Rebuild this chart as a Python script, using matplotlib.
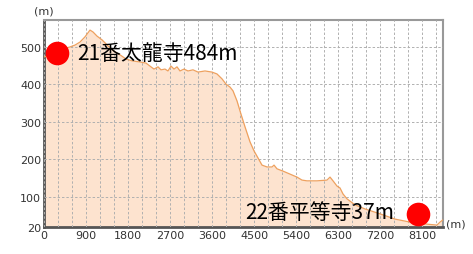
import matplotlib
matplotlib.use("Agg")
import matplotlib.pyplot as plt
from matplotlib.ticker import MultipleLocator

# ================= Data =================
# distance (m) / elevation (m)
distance = [0, 129, 279, 407, 557, 664, 771, 879, 986, 1050, 1136, 1243, 1371,
            1500, 1629, 1757, 1886, 2057, 2186, 2271, 2357, 2443, 2507, 2593,
            2657, 2722, 2786, 2850, 2914, 3000, 3086, 3193, 3300, 3450, 3600,
            3707, 3814, 3900, 3986, 4050, 4136, 4221, 4307, 4414, 4500, 4586,
            4671, 4779, 4886, 4929, 4993, 5121, 5271, 5421, 5529, 5636, 5850,
            6064, 6129, 6193, 6279, 6343, 6407, 6493, 6664, 6879, 7200, 7521,
            7843, 8164, 8421, 8486, 8550]
elevation = [473, 479, 487, 495, 500, 505, 513, 527, 545, 540, 529, 519, 503,
             489, 479, 468, 463, 460, 457, 449, 441, 447, 439, 441,
             436, 449, 441, 447, 436, 441, 436, 439, 433, 436, 433,
             428, 415, 401, 393, 383, 356, 321, 287, 247, 223, 204,
             185, 180, 180, 185, 175, 169, 161, 153, 145, 143, 143,
             145, 153, 143, 129, 124, 108, 95, 79, 68, 55, 41,
             33, 28, 25, 33, 39]

marker_dist = [280, 8010]
marker_elev = [484, 55]
marker_labels = ["21番太龍寺484m", "22番平等寺37m"]

x_ticks = [0, 900, 1800, 2700, 3600, 4500, 5400, 6300, 7200, 8100]
y_ticks = [20, 100, 200, 300, 400, 500]

# ================= Plot =================
plt.rcParams['font.family'] = ['DejaVu Sans']
fig = plt.figure(figsize=(4.73, 2.55), dpi=100)
ax = fig.add_axes([0.093, 0.106, 0.8436, 0.8118])

ax.fill_between(distance, elevation, 20, color="#fde3cf", lw=0, zorder=1)
ax.plot(distance, elevation, color="#eea15f", lw=0.9, zorder=3)

ax.set_xlim(0, 8550)
ax.set_ylim(20, 572)
ax.set_xticks(x_ticks)
ax.set_yticks(y_ticks)
ax.xaxis.set_minor_locator(MultipleLocator(300))
ax.grid(which="both", axis="x", color="#b0b0b0", ls=(0, (2.5, 2)), lw=0.7, zorder=2)
ax.grid(which="major", axis="y", color="#b0b0b0", ls=(0, (2.5, 2)), lw=0.7, zorder=2)
ax.set_axisbelow(False)
ax.tick_params(which="both", length=0, labelsize=8, colors="#333333", pad=2)

for side in ["left", "bottom"]:
    ax.spines[side].set_color("#555555")
    ax.spines[side].set_linewidth(2)
for side in ["top", "right"]:
    ax.spines[side].set_color("#999999")
    ax.spines[side].set_linewidth(1.5)

ax.plot(marker_dist, marker_elev, "o", color="#ff0000", ms=17, mec="none",
        zorder=5, clip_on=False)

cjk = ['Noto Sans CJK JP', 'DejaVu Sans']
ax.text(720, marker_elev[0], marker_labels[0], fontsize=15, family=cjk,
        va="center", ha="left", zorder=6)
ax.text(7500, marker_elev[1] + 5, marker_labels[1], fontsize=15, family=cjk,
        va="center", ha="right", zorder=6)

fig.text(0.093, 0.955, "(m)", fontsize=8, color="#333333", ha="center", va="center")
fig.text(0.963, 0.118, "(m)", fontsize=8, color="#333333", ha="center", va="center")

fig.savefig("out.png", dpi=100)
